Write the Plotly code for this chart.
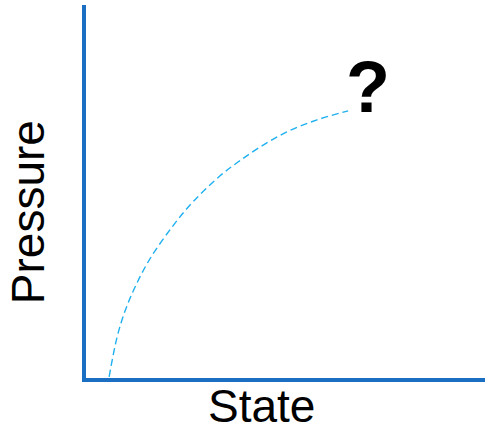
import plotly.graph_objects as go

# Curve (arbitrary units: State on x, Pressure on y)
state = [0.58, 0.78, 0.98, 1.23, 1.60, 2.18, 2.68, 3.36, 3.81, 4.36, 5.04, 5.79, 6.57]
pressure = [0.03, 1.10, 1.80, 2.44, 3.19, 4.08, 4.72, 5.42, 5.79, 6.19, 6.60, 6.92, 7.16]

x_label = "State"
y_label = "Pressure"
mark_text = "?"
mark_x = 7.07
mark_y = 7.80

AXIS_COLOR = "#1b6fc3"
CURVE_COLOR = "#1eb0ef"
FONT = "Liberation Sans, Arial, sans-serif"

fig = go.Figure()
fig.add_trace(go.Scatter(
    x=state, y=pressure, mode="lines",
    line=dict(color=CURVE_COLOR, width=1.4, dash="7px,4px", shape="spline"),
    hoverinfo="skip", showlegend=False,
))

fig.add_annotation(x=mark_x, y=mark_y, xref="x", yref="y", text="<b>" + mark_text + "</b>",
                   showarrow=False, font=dict(family=FONT, size=72, color="#000000"),
                   xanchor="center", yanchor="middle")
fig.add_annotation(x=0.44, y=0.0, xref="paper", yref="paper", text=x_label,
                   showarrow=False, font=dict(family=FONT, size=46, color="#000000"),
                   xanchor="center", yanchor="top")
fig.add_annotation(x=-0.145, y=0.445, xref="paper", yref="paper", text=y_label, textangle=-90,
                   showarrow=False, font=dict(family=FONT, size=46, color="#000000"),
                   xanchor="center", yanchor="middle")

fig.update_xaxes(range=[0, 10], showgrid=False, zeroline=False, showticklabels=False, ticks="",
                 showline=True, linecolor=AXIS_COLOR, linewidth=4, fixedrange=True)
fig.update_yaxes(range=[0, 10], showgrid=False, zeroline=False, showticklabels=False, ticks="",
                 showline=True, linecolor=AXIS_COLOR, linewidth=4, fixedrange=True)

fig.update_layout(
    width=485, height=428,
    margin=dict(l=86, r=0, t=5, b=50, pad=0),
    paper_bgcolor="white", plot_bgcolor="white",
    font=dict(family=FONT),
)

fig.write_html("out.html", config={"displayModeBar": False},
               post_script="document.body.style.margin='0';")
